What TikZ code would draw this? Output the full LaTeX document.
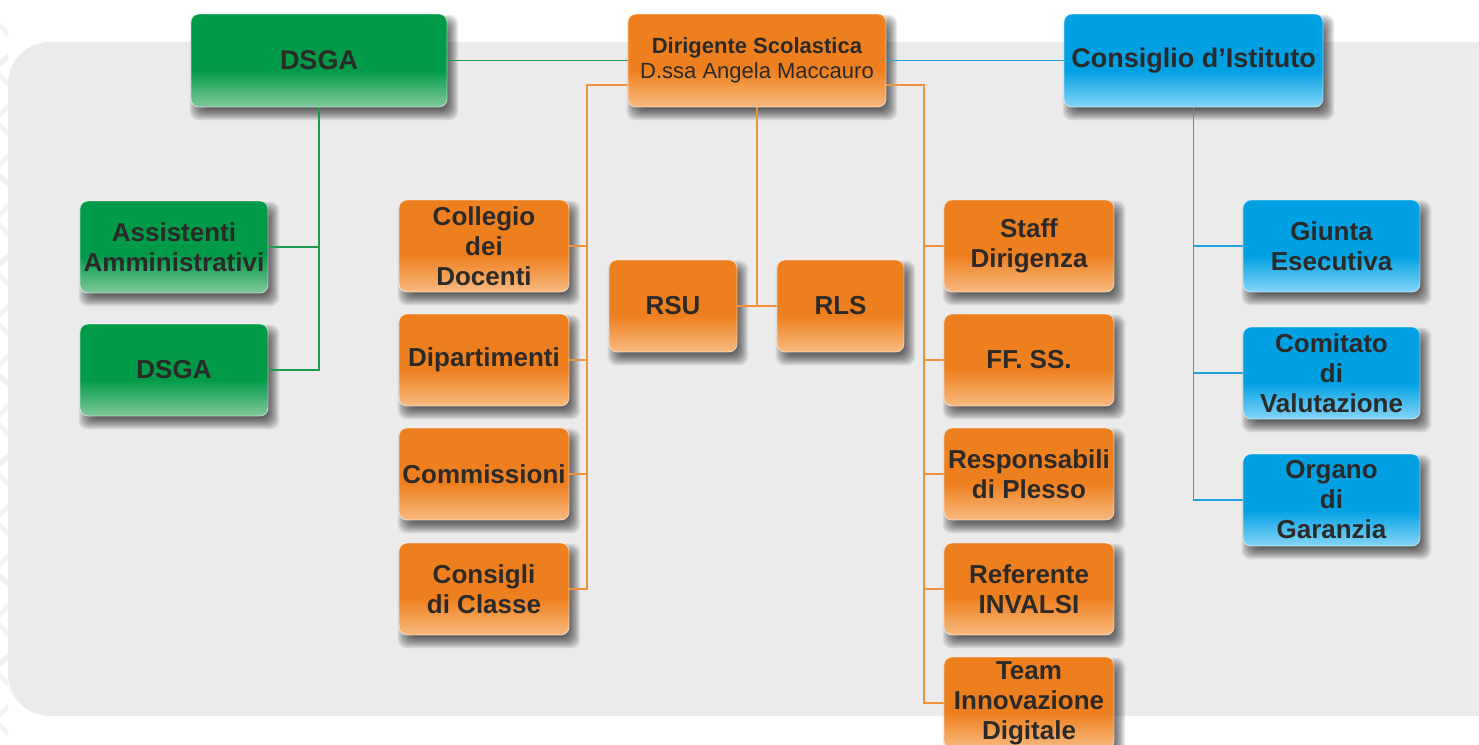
\documentclass[tikz,border=0pt]{standalone}
\usepackage{fontspec}
\setmainfont{Liberation Sans}
\usetikzlibrary{calc}
\definecolor{gD}{HTML}{009A49}
\definecolor{gL}{HTML}{80C99A}
\definecolor{oD}{HTML}{EE7F1F}
\definecolor{oL}{HTML}{F8BA80}
\definecolor{bD}{HTML}{00A0E3}
\definecolor{bL}{HTML}{84D5F7}
\definecolor{panel}{HTML}{EAEBEA}
\definecolor{txt}{HTML}{2B2A29}
\definecolor{gLine}{HTML}{1E9B4D}
\definecolor{oLine}{HTML}{F0923C}
\definecolor{bLine}{HTML}{21A1DC}
\definecolor{chev}{HTML}{F3F0F7}
\pgfdeclareverticalshading{gsh}{100bp}{color(0bp)=(gL); color(25bp)=(gL); color(45bp)=(gD); color(100bp)=(gD)}
\pgfdeclareverticalshading{osh}{100bp}{color(0bp)=(oL); color(25bp)=(oL); color(45bp)=(oD); color(100bp)=(oD)}
\pgfdeclareverticalshading{bsh}{100bp}{color(0bp)=(bL); color(25bp)=(bL); color(45bp)=(bD); color(100bp)=(bD)}
\pgfdeclarelayer{bg}
\pgfdeclarelayer{shadow}
\pgfdeclarelayer{lines}
\pgfsetlayers{bg,shadow,lines,main}
\newcommand{\boxshadow}[1]{%
  \begin{pgfonlayer}{shadow}
    \foreach \r in {-6,...,6} {
      \fill[black, opacity=0.065, rounded corners=9pt]
        ($(#1.north west)+(5+\r,7+\r)$) rectangle ($(#1.south east)+(5-\r,7-\r)$);
    }
  \end{pgfonlayer}}
\tikzset{
  box/.style={rectangle, rounded corners=8pt, draw=white, draw opacity=0.55, line width=0.9pt,
    text=txt, align=center, inner sep=0pt,
    font=\fontsize{26}{30}\selectfont\bfseries},
  gbox/.style={box, shading=gsh},
  obox/.style={box, shading=osh},
  bbox/.style={box, shading=bsh},
  small/.style={minimum width=170pt, minimum height=92pt},
  gline/.style={draw=gLine, line width=1.3pt},
  oline/.style={draw=oLine, line width=1.3pt},
  bline/.style={draw=bLine, line width=1.3pt}
}
\begin{document}
\begin{tikzpicture}[x=1pt,y=-1pt]
\useasboundingbox (0,0) rectangle (1479,744);
\begin{pgfonlayer}{bg}
  \fill[white] (0,0) rectangle (1479,744);
  \begin{scope}
    \clip (0,0) rectangle (8,744);
    \draw[chev, line width=5pt] (-6,20) -- (20,45) -- (-6,70) -- (20,95) -- (-6,120) -- (20,145) -- (-6,170) -- (20,195) -- (-6,220) -- (20,245) -- (-6,270) -- (20,295) -- (-6,320) -- (20,345) -- (-6,370) -- (20,395) -- (-6,420) -- (20,445) -- (-6,470) -- (20,495) -- (-6,520) -- (20,545) -- (-6,570) -- (20,595) -- (-6,620) -- (20,645) -- (-6,670) -- (20,695) -- (-6,720) -- (20,745);
  \end{scope}
  \begin{scope}
    \clip (0,0) rectangle (1479,744);
    \fill[panel, rounded corners=42pt] (8,42) rectangle (1540,716);
  \end{scope}
\end{pgfonlayer}

% top row
\node[gbox, minimum width=256pt, minimum height=93pt, font=\fontsize{27}{30}\selectfont\bfseries] (dsga1) at (319,60.5) {DSGA};
\node[obox, minimum width=258pt, minimum height=93pt, font=\fontsize{22}{24.5}\selectfont] (dir) at (757,60.5) {\textbf{Dirigente Scolastica}\\D.ssa Angela Maccauro};
\node[bbox, minimum width=259pt, minimum height=93pt, font=\fontsize{27}{30}\selectfont\bfseries] (cons) at (1193.5,60.5) {Consiglio d’Istituto};

% green
\node[gbox, minimum width=188pt, minimum height=92pt] (assist) at (174,247) {Assistenti\\Amministrativi};
\node[gbox, minimum width=188pt, minimum height=92pt] (dsga2) at (174,370) {DSGA};

% orange left column
\node[obox, small] (coll) at (484,246) {Collegio\\dei\\Docenti};
\node[obox, small] (dip) at (484,360) {Dipartimenti};
\node[obox, small] (comm) at (484,474) {Commissioni};
\node[obox, small] (consc) at (484,589) {Consigli\\di Classe};

% middle
\node[obox, minimum width=128pt, minimum height=92pt] (rsu) at (673,306) {RSU};
\node[obox, minimum width=127pt, minimum height=92pt] (rls) at (840.5,306) {RLS};

% orange right column
\node[obox, small] (staff) at (1029,246) {Staff\\Dirigenza};
\node[obox, small] (ffss) at (1029,360) {FF. SS.};
\node[obox, small] (resp) at (1029,474) {Responsabili\\di Plesso};
\node[obox, small] (ref) at (1029,589) {Referente\\INVALSI};
\node[obox, small] (team) at (1029,703) {Team\\Innovazione\\Digitale};

% blue
\node[bbox, minimum width=177pt, minimum height=92pt] (giunta) at (1331.5,246) {Giunta\\Esecutiva};
\node[bbox, minimum width=177pt, minimum height=92pt] (comit) at (1331.5,373) {Comitato\\di\\Valutazione};
\node[bbox, minimum width=177pt, minimum height=92pt] (organo) at (1331.5,500) {Organo\\di\\Garanzia};

\foreach \n in {dsga1,dir,cons,assist,dsga2,coll,dip,comm,consc,rsu,rls,staff,ffss,resp,ref,team,giunta,comit,organo} {\boxshadow{\n}}

\coordinate (lbus) at (587,0);
\coordinate (rbus) at (924,0);

\begin{pgfonlayer}{lines}
  % green
  \draw[gline] (dsga1.east) -- (dir.west);
  \draw[gline] (dsga1.south) -- (dsga1.south |- dsga2.east) -- (dsga2.east);
  \draw[gline] (assist.east) -- (dsga1.south |- assist.east);
  % blue
  \draw[bline] (dir.east) -- (cons.west);
  \draw[bline] (cons.south) -- (cons.south |- organo.west) -- (organo.west);
  \draw[bline] (giunta.west) -- (cons.south |- giunta.west);
  \draw[bline] (comit.west) -- (cons.south |- comit.west);
  % orange left
  \draw[oline] ([yshift=-24.5pt]dir.west) -| (lbus |- consc.east) -- (consc.east);
  \draw[oline] (coll.east) -- (lbus |- coll.east);
  \draw[oline] (dip.east) -- (lbus |- dip.east);
  \draw[oline] (comm.east) -- (lbus |- comm.east);
  % orange right
  \draw[oline] ([yshift=-24.5pt]dir.east) -| (rbus |- team.west) -- (team.west);
  \draw[oline] (staff.west) -- (rbus |- staff.west);
  \draw[oline] (ffss.west) -- (rbus |- ffss.west);
  \draw[oline] (resp.west) -- (rbus |- resp.west);
  \draw[oline] (ref.west) -- (rbus |- ref.west);
  % middle
  \draw[oline] (dir.south) -- (dir.south |- rsu.east);
  \draw[oline] (rsu.east) -- (rls.west);
\end{pgfonlayer}
\end{tikzpicture}
\end{document}
